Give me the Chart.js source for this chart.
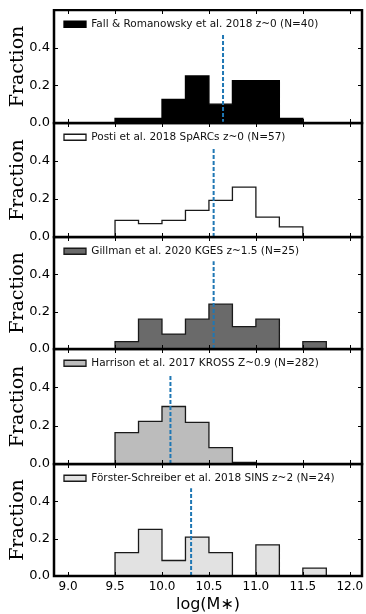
<!DOCTYPE html>
<html>
<head>
<meta charset="utf-8">
<script src="https://cdn.jsdelivr.net/npm/chart.js@4.4.1/dist/chart.umd.min.js"></script>
<style>
  html, body { margin: 0; padding: 0; background: #fff; }
  #wrap { position: relative; width: 366px; height: 614px; overflow: hidden; background: #fff; }
  #wrap canvas { position: absolute; left: 0; }
</style>
</head>
<body>
<div id="wrap"></div>
<script>
// histogram bin edges, log(M*), width 0.25
const binEdges = [9.5, 9.75, 10.0, 10.25, 10.5, 10.75, 11.0, 11.25, 11.5, 11.75];

// fraction per bin
const fallFrac     = [0.025, 0.025, 0.125, 0.25, 0.1, 0.225, 0.225, 0.025, 0];
const postiFrac    = [0.088, 0.07, 0.088, 0.14, 0.193, 0.263, 0.105, 0.053, 0];
const gillmanFrac  = [0.04, 0.16, 0.08, 0.16, 0.24, 0.12, 0.16, 0, 0.04];
const harrisonFrac = [0.164, 0.222, 0.30, 0.217, 0.085, 0.008, 0, 0, 0];
const forsterFrac  = [0.125, 0.25, 0.083, 0.208, 0.125, 0, 0.167, 0, 0.042];

// median log(M*) per sample (dashed blue line) and how high the line goes
const medians = [10.65, 10.55, 10.55, 10.09, 10.31];
const medianTop = 0.47;

const sampleLabels = [
  'Fall & Romanowsky et al. 2018 z~0 (N=40)',
  'Posti et al. 2018 SpARCs z~0 (N=57)',
  'Gillman et al. 2020 KGES z~1.5 (N=25)',
  'Harrison et al. 2017 KROSS Z~0.9 (N=282)',
  'F\u00f6rster-Schreiber et al. 2018 SINS z~2 (N=24)'
];

const xTicks = [9.0, 9.5, 10.0, 10.5, 11.0, 11.5, 12.0];
const yTicks = [0.0, 0.2, 0.4];

const allFrac = [fallFrac, postiFrac, gillmanFrac, harrisonFrac, forsterFrac];
const fillColors = ['#000000', null, '#6a6a6a', '#bcbcbc', '#e2e2e2'];

// panel layout (pixel rows of each plot frame)
const panelTops = [10, 123, 237, 349, 464, 576];

Chart.defaults.font.family = 'DejaVu Sans';
Chart.defaults.color = '#000';

// frame + inward ticks on all four sides
const framePlugin = {
  id: 'frame',
  afterDatasetsDraw(chart) {
    const { ctx, chartArea: a } = chart;
    const x = chart.scales.x, y = chart.scales.y;
    ctx.save();
    ctx.strokeStyle = '#000';
    ctx.lineWidth = 1;
    ctx.beginPath();
    xTicks.forEach(v => {
      const px = Math.round(x.getPixelForValue(v)) + 0.5;
      ctx.moveTo(px, a.bottom); ctx.lineTo(px, a.bottom - 4);
      ctx.moveTo(px, a.top); ctx.lineTo(px, a.top + 4);
    });
    yTicks.forEach(v => {
      const py = Math.round(y.getPixelForValue(v)) + 0.5;
      ctx.moveTo(a.left, py); ctx.lineTo(a.left + 4, py);
      ctx.moveTo(a.right, py); ctx.lineTo(a.right - 4, py);
    });
    ctx.stroke();
    ctx.lineWidth = 2.5;
    ctx.strokeRect(a.left, a.top, a.right - a.left, a.bottom - a.top);
    ctx.restore();
  }
};

function stepPoints(frac) {
  // closed outline: up at first edge, steps across, down at last edge
  const pts = [{ x: binEdges[0], y: 0 }];
  frac.forEach((f, i) => pts.push({ x: binEdges[i], y: f }));
  pts.push({ x: binEdges[binEdges.length - 1], y: 0 });
  return pts;
}

const wrap = document.getElementById('wrap');

for (let i = 0; i < 5; i++) {
  const last = i === 4;
  const top = panelTops[i] - 1;
  const h = last ? 614 - top : (panelTops[i + 1] - panelTops[i]) + 13;
  const cv = document.createElement('canvas');
  cv.width = 366;
  cv.height = h;
  cv.style.top = top + 'px';
  cv.style.width = '366px';
  cv.style.height = h + 'px';
  wrap.appendChild(cv);

  const fill = fillColors[i];

  new Chart(cv, {
    type: 'line',
    data: {
      datasets: [{
        label: 'median',
        data: [{ x: medians[i], y: 0 }, { x: medians[i], y: medianTop }],
        borderColor: '#1f77b4',
        borderWidth: 2,
        borderDash: [4, 2],
        pointRadius: 0,
        fill: false,
        order: 0
      }, {
        label: sampleLabels[i],
        data: stepPoints(allFrac[i]),
        stepped: 'before',
        borderColor: i === 0 ? '#000' : '#1a1a1a',
        borderWidth: 1.3,
        backgroundColor: fill || '#ffffff',
        fill: fill ? 'origin' : false,
        pointRadius: 0,
        order: 1
      }]
    },
    options: {
      responsive: false,
      animation: false,
      devicePixelRatio: 1,
      layout: { padding: { top: 1, bottom: last ? 0 : 12, left: 0, right: 4 } },
      plugins: {
        legend: {
          position: 'chartArea',
          align: 'start',
          labels: {
            filter: item => item.text !== 'median',
            boxWidth: 22,
            boxHeight: 6,
            padding: 10,
            color: '#111',
            font: { size: 10.5 }
          }
        },
        tooltip: { enabled: false }
      },
      scales: {
        x: {
          type: 'linear',
          min: 8.85,
          max: 12.13,
          display: last,
          grid: { display: false, drawTicks: false },
          border: { display: false },
          afterBuildTicks: s => { s.ticks = xTicks.map(v => ({ value: v })); },
          afterFit: s => { if (last) s.height = 38; s.paddingLeft = 0; s.paddingRight = 0; },
          ticks: {
            padding: 4,
            maxRotation: 0,
            autoSkip: false,
            font: { size: 12 },
            callback: v => v.toFixed(1)
          },
          title: {
            display: true,
            text: 'log(M\u2217)',
            font: { size: 16 },
            padding: { top: 0, bottom: 0 }
          }
        },
        y: {
          min: 0,
          max: 0.6,
          grid: { display: false, drawTicks: false },
          border: { display: false },
          afterBuildTicks: s => { s.ticks = yTicks.map(v => ({ value: v })); },
          afterFit: s => { s.width = 54; s.paddingTop = 0; s.paddingBottom = 0; },
          ticks: {
            padding: 4,
            font: { size: 13 },
            callback: v => v.toFixed(1)
          },
          title: {
            display: true,
            text: 'Fraction',
            font: { family: 'DejaVu Serif', size: 19 },
            padding: { top: 7, bottom: 0 }
          }
        }
      }
    },
    plugins: [framePlugin]
  });
}
</script>
</body>
</html>
